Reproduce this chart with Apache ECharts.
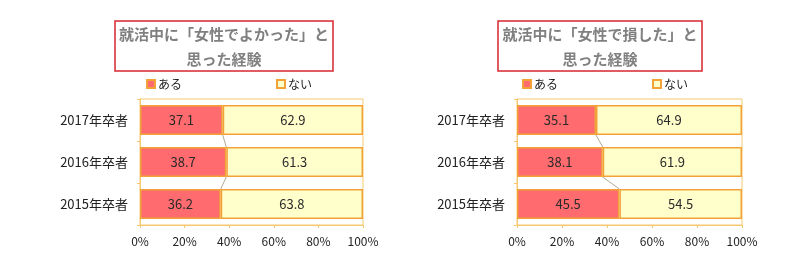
<!DOCTYPE html>
<html><head><meta charset="utf-8">
<script src="https://cdn.jsdelivr.net/npm/echarts@6/dist/echarts.min.js"></script>
<style>html,body{margin:0;padding:0;background:#fff}#c{width:800px;height:260px}</style>
</head><body><div id="c"></div>
<script>
const categories = ['2017年卒者', '2016年卒者', '2015年卒者'];
const xTicks = [0, 20, 40, 60, 80, 100];
const goodYes = [37.1, 38.7, 36.2];
const goodNo = [62.9, 61.3, 63.8];
const badYes = [35.1, 38.1, 45.5];
const badNo = [64.9, 61.9, 54.5];
const titles = ['就活中に「女性でよかった」と\n思った経験', '就活中に「女性で損した」と\n思った経験'];

const FONT = '"Noto Sans CJK JP", sans-serif';
const RED = '#FF6B6E', YEL = '#FFFFCC', ORG = '#F2A236', GRID = '#F5C870';
const grids = [{left: 140, width: 223, top: 99, height: 126}, {left: 517, width: 225, top: 99, height: 126}];
const boxes = [{x: 115, w: 218}, {x: 498, w: 204}];
const legendX = [[146, 276], [522, 652]];
const data = [[goodYes, goodNo], [badYes, badNo]];

const option = {
  animation: false,
  textStyle: {fontFamily: FONT},
  title: titles.map((t, i) => ({
    text: t, left: boxes[i].x + boxes[i].w / 2, top: 21, textAlign: 'center',
    textStyle: {fontSize: 15, fontWeight: 'bold', color: '#808080', lineHeight: 25, fontFamily: FONT},
    padding: [1, 0]
  })),
  graphic: boxes.map(b => ({type: 'rect', shape: {x: b.x, y: 21, width: b.w, height: 50},
    style: {fill: 'none', stroke: '#D8262F', lineWidth: 1.5}, z: -1})),
  legend: [].concat(...legendX.map((xs, i) => [
    {data: ['ある'], left: xs[0], top: 78, padding: 0, itemWidth: 8, itemHeight: 8, icon: 'rect', itemGap: 3,
      textStyle: {fontSize: 12, color: '#222', fontFamily: FONT, padding: [0, 0, 0, -2]}, selectedMode: false},
    {data: ['ない'], left: xs[1], top: 78, padding: 0, itemWidth: 8, itemHeight: 8, icon: 'rect', itemGap: 3,
      textStyle: {fontSize: 12, color: '#222', fontFamily: FONT, padding: [0, 0, 0, -2]}, selectedMode: false}
  ])),
  grid: grids.map(g => Object.assign({show: true, borderColor: GRID, borderWidth: 1}, g)),
  xAxis: grids.map((g, i) => ({
    type: 'value', gridIndex: i, min: 0, max: 100, interval: 20,
    axisLabel: {formatter: '{value}%', fontSize: 12, color: '#222', margin: 10},
    axisLine: {show: true, lineStyle: {color: GRID}},
    axisTick: {show: true, length: 3, lineStyle: {color: GRID}},
    splitLine: {show: false}
  })),
  yAxis: grids.map((g, i) => ({
    type: 'category', gridIndex: i, data: categories, inverse: true,
    axisLabel: {fontSize: 13, color: '#222', margin: 12},
    axisLine: {show: true, lineStyle: {color: GRID}},
    axisTick: {show: true, length: 3, lineStyle: {color: GRID}}
  })),
  series: [].concat(...data.map((d, i) => [
    {name: 'ある', type: 'bar', stack: 's' + i, xAxisIndex: i, yAxisIndex: i, data: d[0], barWidth: 30,
      itemStyle: {color: RED, borderColor: ORG, borderWidth: 1.5},
      label: {show: true, position: 'inside', fontSize: 13, color: '#2a2a2a'}},
    {name: 'ない', type: 'bar', stack: 's' + i, xAxisIndex: i, yAxisIndex: i, data: d[1], barWidth: 30,
      itemStyle: {color: YEL, borderColor: ORG, borderWidth: 1.5},
      label: {show: true, position: 'inside', fontSize: 13, color: '#2a2a2a'}},
    {type: 'custom', xAxisIndex: i, yAxisIndex: i, data: d[0].slice(0, -1).map((v, k) => [k]), z: 1,
      renderItem: (params, api) => {
        const k = api.value(0);
        const p1 = api.coord([d[0][k], k]);
        const p2 = api.coord([d[0][k + 1], k + 1]);
        return {type: 'line', shape: {x1: p1[0], y1: p1[1] + 15, x2: p2[0], y2: p2[1] - 15},
          style: {stroke: '#B0A890', lineWidth: 1}};
      }}
  ]))
};
echarts.init(document.getElementById('c')).setOption(option);
</script></body></html>
